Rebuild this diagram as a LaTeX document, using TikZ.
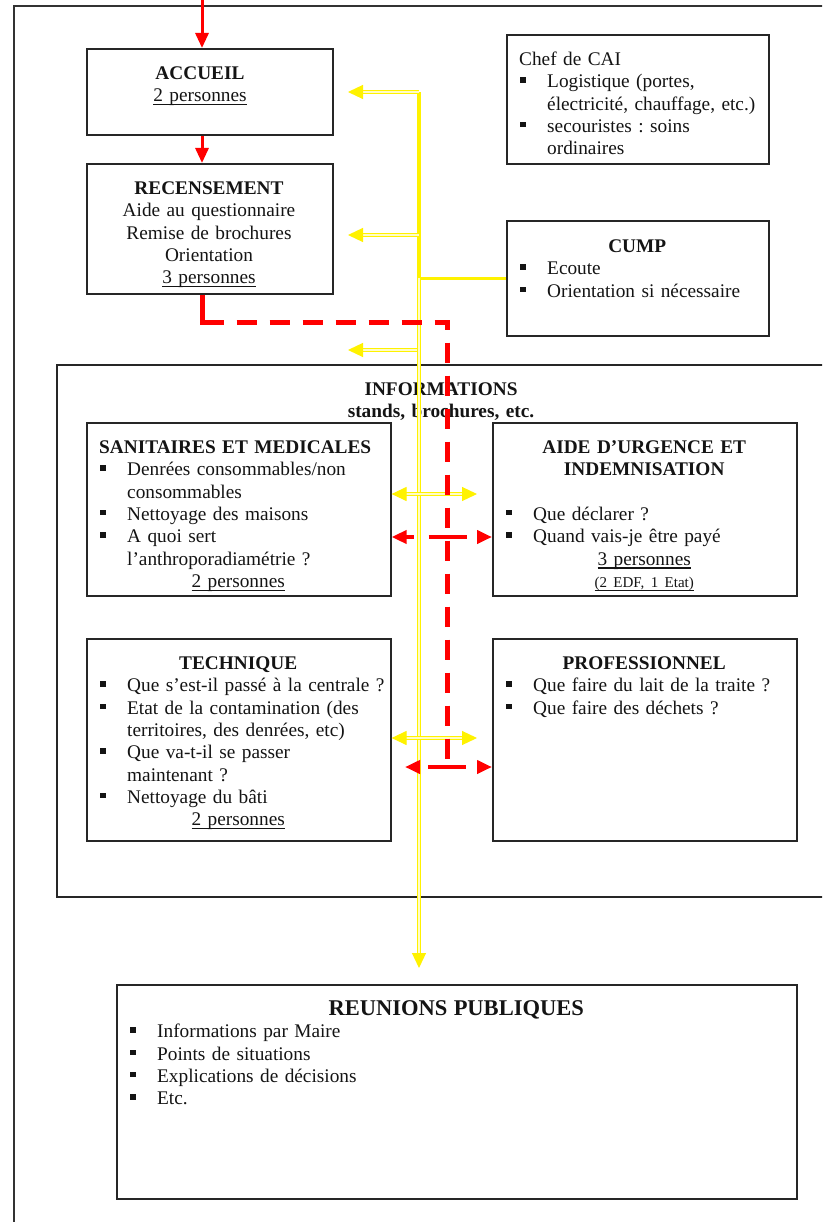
\documentclass[tikz,border=0pt]{standalone}
\usepackage{fontspec}
\setmainfont{Liberation Serif}
\usetikzlibrary{arrows.meta,calc}
\frenchspacing
\newcommand\sqb{\rule[5pt]{5.5pt}{5.5pt}}
\newcommand\ulx[1]{\setbox0\hbox{#1}\rlap{\rule[-3.5pt]{\wd0}{1.3pt}}\box0}
\newcommand\bi[1]{\par\noindent\strut\makebox[28pt][l]{\hspace{1pt}\sqb}\mbox{#1}\par}
\newcommand\bj[1]{\par\noindent\strut\hspace*{28pt}\mbox{#1}\par}
\newcommand\cl[1]{\par\noindent\strut\makebox[\hsize]{#1}\par}
\newcommand\lf[1]{\par\noindent\strut\mbox{#1}\par}
\newcommand\blankline{\par\noindent\strut\par}
\begin{document}
\begin{tikzpicture}[x=1pt,y=-1pt,
  box/.style={draw=black!85, line width=1.6pt, inner sep=0pt, anchor=north west},
  txt/.style={inner sep=0pt, anchor=north west, text width=#1, text=black!92,
    font=\fontsize{19.3}{22.3}\selectfont\frenchspacing},
  rarrow/.style={draw=red, line width=3pt, -{Triangle[length=15pt,width=13pt]}},
  rdash/.style={draw=red, line width=5pt, dash pattern=on 20pt off 13pt},
  rdarrow/.style={draw=red, line width=4pt,
    {Triangle[length=15pt,width=13pt]}-{Triangle[length=15pt,width=13pt]}},
  ysolid/.style={draw=yellow, line width=3.5pt},
  ydouble/.style={draw=yellow, line width=1.2pt, double=yellow!22, double distance=1.6pt},
  ytip/.style={-{Triangle[length=15pt,width=14pt,fill=yellow]}},
  ytips/.style={{Triangle[length=15pt,width=14pt,fill=yellow]}-{Triangle[length=15pt,width=14pt,fill=yellow]}}
]
\useasboundingbox (0,0) rectangle (822,1222);
\clip (0,0) rectangle (822,1222);
\fill[white] (0,0) rectangle (822,1222);

% frame and boxes
\node[box, draw=black!80, line width=1.8pt, minimum width=830pt, minimum height=1240pt] (frame) at (13,5) {};
\node[box, minimum width=246pt, minimum height=86pt] (accueil) at (86,48) {};
\node[box, minimum width=246pt, minimum height=130pt] (recens) at (86,163) {};
\node[box, minimum width=262pt, minimum height=129pt] (chef) at (506,34) {};
\node[box, minimum width=262pt, minimum height=115pt] (cump) at (506,220) {};
\node[box, minimum width=790pt, minimum height=532pt] (info) at (56,364) {};
\node[box, minimum width=304pt, minimum height=173pt] (sanit) at (86,422) {};
\node[box, minimum width=304pt, minimum height=173pt] (aide) at (492,422) {};
\node[box, minimum width=304pt, minimum height=202pt] (tech) at (86,638) {};
\node[box, minimum width=304pt, minimum height=202pt] (prof) at (492,638) {};
\node[box, minimum width=680pt, minimum height=214pt] (reun) at (116,984) {};

% texts
\node[txt=220pt, anchor=north] (accueilT) at (200,57)
  {\cl{\textbf{ACCUEIL}}\cl{\ulx{2 personnes}}};
\node[txt=220pt, anchor=north] (recensT) at (209,172)
  {\cl{\textbf{RECENSEMENT}}\cl{Aide au questionnaire}\cl{Remise de brochures}\cl{Orientation}\cl{\ulx{3 personnes}}};
\node[txt=236pt] (chefT) at ($(chef.north west)+(13,9)$)
  {\lf{Chef de CAI}\bi{Logistique (portes,}\bj{électricité, chauffage, etc.)}\bi{secouristes : soins}\bj{ordinaires}};
\node[txt=236pt] (cumpT) at ($(cump.north west)+(13,10)$)
  {\cl{\textbf{CUMP}}\bi{Ecoute}\bi{Orientation si nécessaire}};
\node[txt=300pt, anchor=north] (infoT) at (441,373)
  {\cl{\textbf{INFORMATIONS}}\cl{\textbf{stands, brochures, etc.}}};
\node[txt=278pt] (sanitT) at ($(sanit.north west)+(13,9)$)
  {\lf{\textbf{SANITAIRES ET MEDICALES}}\bi{Denrées consommables/non}\bj{consommables}\bi{Nettoyage des maisons}\bi{A quoi sert}\bj{l’anthroporadiamétrie ?}\cl{\ulx{2 personnes}}};
\node[txt=278pt] (aideT) at ($(aide.north west)+(13,9)$)
  {\cl{\textbf{AIDE D’URGENCE ET}}\cl{\textbf{INDEMNISATION}}\blankline\bi{Que déclarer ?}\bi{Quand vais-je être payé}\cl{\ulx{3 personnes}}\cl{\fontsize{15}{18}\selectfont\ulx{(2 EDF, 1 Etat)}}};
\node[txt=278pt] (techT) at ($(tech.north west)+(13,9)$)
  {\cl{\textbf{TECHNIQUE}}\bi{Que s’est-il passé à la centrale ?}\bi{Etat de la contamination (des}\bj{territoires, des denrées, etc)}\bi{Que va-t-il se passer}\bj{maintenant ?}\bi{Nettoyage du bâti}\cl{\ulx{2 personnes}}};
\node[txt=278pt] (profT) at ($(prof.north west)+(13,9)$)
  {\cl{\textbf{PROFESSIONNEL}}\bi{Que faire du lait de la traite ?}\bi{Que faire des déchets ?}};
\node[txt=654pt] (reunT) at ($(reun.north west)+(13,9)$)
  {\cl{\fontsize{22.5}{22.3}\selectfont\bfseries REUNIONS PUBLIQUES}\bi{Informations par Maire}\bi{Points de situations}\bi{Explications de décisions}\bi{Etc.}};

% coordinates
\coordinate (top) at (202,0);
\coordinate (yx) at (419,0);
\coordinate (ytop) at (419,92);
\coordinate (a1) at (348,92);
\coordinate (a2) at (348,235);
\coordinate (a3) at (348,350);
\coordinate (ybot) at (419,968);
\coordinate (yh1) at (477,494);
\coordinate (yh2) at (477,738);
\coordinate (c1) at (202,322);
\coordinate (c2) at (447,322);
\coordinate (t2) at (447,767);
\coordinate (rh1) at (0,537);
\coordinate (rl2) at (405,767);

% yellow connectors
\draw[ysolid] (cump.west) -- (cump.west -| yx) -- (ytop);
\draw[ydouble, ytip] (ytop) -- (a1);
\draw[ydouble, ytip] (yx |- a2) -- (a2);
\draw[ydouble, ytip] (yx |- a3) -- (a3);
\draw[ydouble, ytip] (cump.west -| yx) -- (ybot);
\draw[ydouble, ytips] (sanit.east |- yh1) -- (yh1);
\draw[ydouble, ytips] (tech.east |- yh2) -- (yh2);

% red connectors
\draw[rarrow] (top) -- (top |- accueil.north);
\draw[rarrow] (top |- accueil.south) -- (top |- recens.north);
\draw[rdash, dash phase=4pt] (top |- recens.south) -- (c1) -- (c2) -- (t2);
\draw[draw=red, line width=5pt] (top |- recens.south) -- (c1) -- ($(c1)+(8,0)$);
\draw[rdarrow, dash pattern=on 38pt off 15pt, dash phase=30pt] (sanit.east |- rh1) -- (aide.west |- rh1);
\draw[rdarrow, dash pattern=on 38pt off 19pt, dash phase=48pt] (rl2) -- (prof.west |- rl2);
\end{tikzpicture}
\end{document}
